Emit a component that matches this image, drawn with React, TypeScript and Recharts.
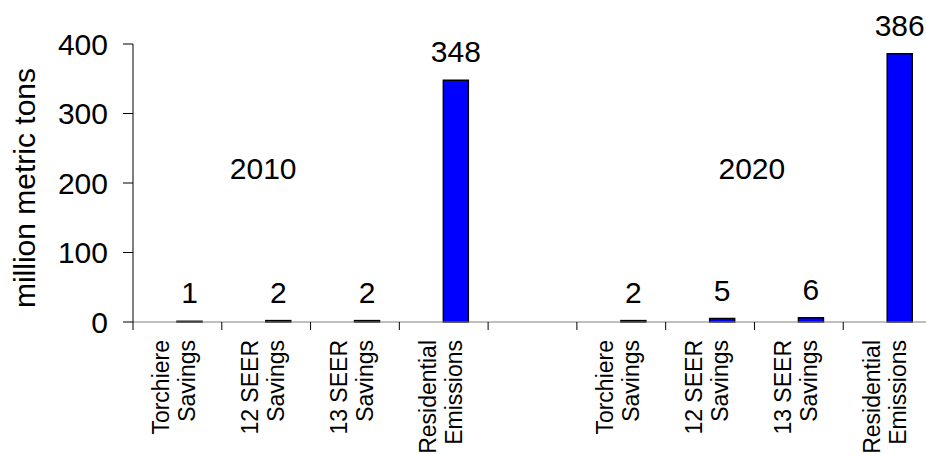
import React from "react";
import {
  BarChart, Bar, XAxis, YAxis, LabelList, ReferenceDot,
} from "recharts";

// categories (one empty slot between the two years)
const categoryIds = ["t2010", "s12_2010", "s13_2010", "r2010", "gap", "t2020", "s12_2020", "s13_2020", "r2020"];
const tickLine1 = ["Torchiere", "12 SEER", "13 SEER", "Residential", "", "Torchiere", "12 SEER", "13 SEER", "Residential"];
const tickLine2 = ["Savings", "Savings", "Savings", "Emissions", "", "Savings", "Savings", "Savings", "Emissions"];
const values = [1, 2, 2, 348, null, 2, 5, 6, 386];

const yTicks = [0, 100, 200, 300, 400];

const years = ["2010", "2020"];

const FONT = '"Liberation Sans", Arial, sans-serif';

const data = categoryIds.map((id, i) => ({ id, value: values[i] }));

// category label plus a tick mark on the left boundary of each band
function CatTick({ x, y, payload, width }: any) {
  const i = categoryIds.indexOf(payload.value);
  const half = width / categoryIds.length / 2;
  const last = i === categoryIds.length - 1;
  return (
    <g>
      <line x1={x - half} x2={x - half} y1={y} y2={y + 8} stroke="#000" />
      {last && <line x1={x + half} x2={x + half} y1={y} y2={y + 8} stroke="#000" />}
      {tickLine1[i] && (
        <g transform={`translate(${x},${y + 18})`}>
          <text transform="rotate(-90)" textAnchor="end" fontSize={23} fill="#000" fontFamily={FONT}>
            <tspan x={0} y={-8}>{tickLine1[i]}</tspan>
            <tspan x={0} y={18}>{tickLine2[i]}</tspan>
          </text>
        </g>
      )}
    </g>
  );
}

function YTitle({ viewBox }: any) {
  const cy = viewBox.y + viewBox.height / 2 + 5;
  return (
    <text
      transform={`translate(35,${cy}) rotate(-90)`}
      textAnchor="middle" fontSize={30} fill="#000" fontFamily={FONT}
    >
      million metric tons
    </text>
  );
}

const yearLabel = (text: string, dx: number) => (props: any) => {
  const vb = props.viewBox;
  const cx = vb.x + (vb.width || 0) / 2;
  const cy = vb.y + (vb.height || 0) / 2;
  return (
    <text x={cx + dx} y={cy} textAnchor="middle" fontSize={30} fill="#000" fontFamily={FONT}>
      {text}
    </text>
  );
};

export default function App() {
  return (
    <div style={{ position: "absolute", left: 0, top: 0, width: 926, height: 454, overflow: "hidden", background: "#fff" }}>
      <BarChart
        width={940}
        height={454}
        data={data}
        margin={{ top: 44, right: 8, left: 0, bottom: 0 }}
        barGap={0}
        barSize={25}
      >
        <XAxis
          xAxisId="cat"
          dataKey="id"
          height={132}
          interval={0}
          tickSize={0}
          tickMargin={0}
          tickLine={false}
          axisLine={{ stroke: "#808080" }}
          tick={<CatTick />}
        />
        <YAxis
          width={133}
          domain={[0, 400]}
          ticks={yTicks}
          interval={0}
          tickSize={10}
          tickMargin={15}
          axisLine={{ stroke: "#000" }}
          tickLine={{ stroke: "#000" }}
          tick={{ fontSize: 30, fill: "#000", fontFamily: FONT }}
          label={<YTitle />}
        />
        <Bar xAxisId="cat" dataKey="none" isAnimationActive={false} />
        <Bar xAxisId="cat" dataKey="value" fill="#0000FF" stroke="#000" strokeWidth={1.5} isAnimationActive={false}>
          <LabelList dataKey="value" position="top" offset={18} fontSize={30} fill="#000" fontFamily={FONT} />
        </Bar>
        <ReferenceDot xAxisId="cat" x={categoryIds[1]} y={206} r={0} fill="none" stroke="none"
          label={yearLabel(years[0], -3)} />
        <ReferenceDot xAxisId="cat" x={categoryIds[7]} y={206} r={0} fill="none" stroke="none"
          label={yearLabel(years[1], -47)} />
      </BarChart>
    </div>
  );
}
